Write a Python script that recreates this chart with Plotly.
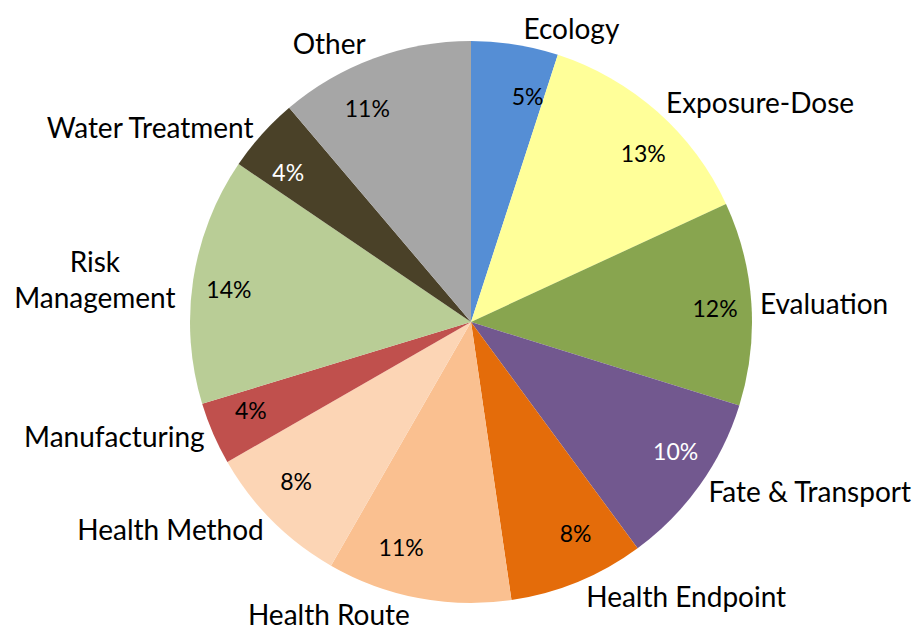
import plotly.graph_objects as go

categories = ["Ecology", "Exposure-Dose", "Evaluation", "Fate & Transport", "Health Endpoint",
              "Health Route", "Health Method", "Manufacturing", "Risk Management",
              "Water Treatment", "Other"]
label_text = ["Ecology", "Exposure-Dose", "Evaluation", "Fate & Transport", "Health Endpoint",
              "Health Route", "Health Method", "Manufacturing", "Risk<br>Management",
              "Water Treatment", "Other"]
shares = [5.0, 13.1, 11.7, 10.1, 7.8, 10.6, 8.4, 3.6, 14.2, 4.3, 11.2]
colors = ["#558ED5", "#FFFF99", "#88A54F", "#72588F", "#E46C0A", "#FAC090",
          "#FCD5B5", "#C0504D", "#B9CD96", "#4A4128", "#A6A6A6"]
pct_colors = ["#000000", "#000000", "#000000", "#FFFFFF", "#000000", "#000000",
              "#000000", "#000000", "#000000", "#FFFFFF", "#000000"]

FONT = "Lato"
W, H = 922, 633
# the page body adds an 8px offset; domains are expressed in figure pixels
dom_big = dict(x=[12 / W, 914 / W], y=[38 / H, 600 / H])
dom_small = dict(x=[12 / W, 914 / W], y=[104 / H, 534 / H])
clear = ["rgba(0,0,0,0)"] * len(shares)

fig = go.Figure()
# coloured slices
fig.add_trace(go.Pie(
    labels=categories, values=shares, sort=False, direction="clockwise",
    textinfo="none", marker=dict(colors=colors, line=dict(width=0)),
    showlegend=False, automargin=False, domain=dom_big,
))
# category labels outside the pie
fig.add_trace(go.Pie(
    labels=categories, values=shares, sort=False, direction="clockwise",
    text=label_text, textinfo="text", textposition="outside",
    textfont=dict(family=FONT, size=28, color="#000000"),
    marker=dict(colors=clear, line=dict(width=0)),
    showlegend=False, hoverinfo="skip", automargin=False, domain=dom_big,
))
# percentage labels near the rim, inside the coloured slices
fig.add_trace(go.Pie(
    labels=categories, values=shares, sort=False, direction="clockwise",
    texttemplate="%{percent:.0%}", textposition="outside",
    textfont=dict(family=FONT, size=23, color=pct_colors),
    marker=dict(colors=clear, line=dict(width=0)),
    showlegend=False, hoverinfo="skip", automargin=False, domain=dom_small,
))
fig.update_layout(
    width=W, height=H,
    margin=dict(l=0, r=0, t=0, b=0, autoexpand=False),
    paper_bgcolor="white", plot_bgcolor="white",
)
fig.write_html("out.html")
